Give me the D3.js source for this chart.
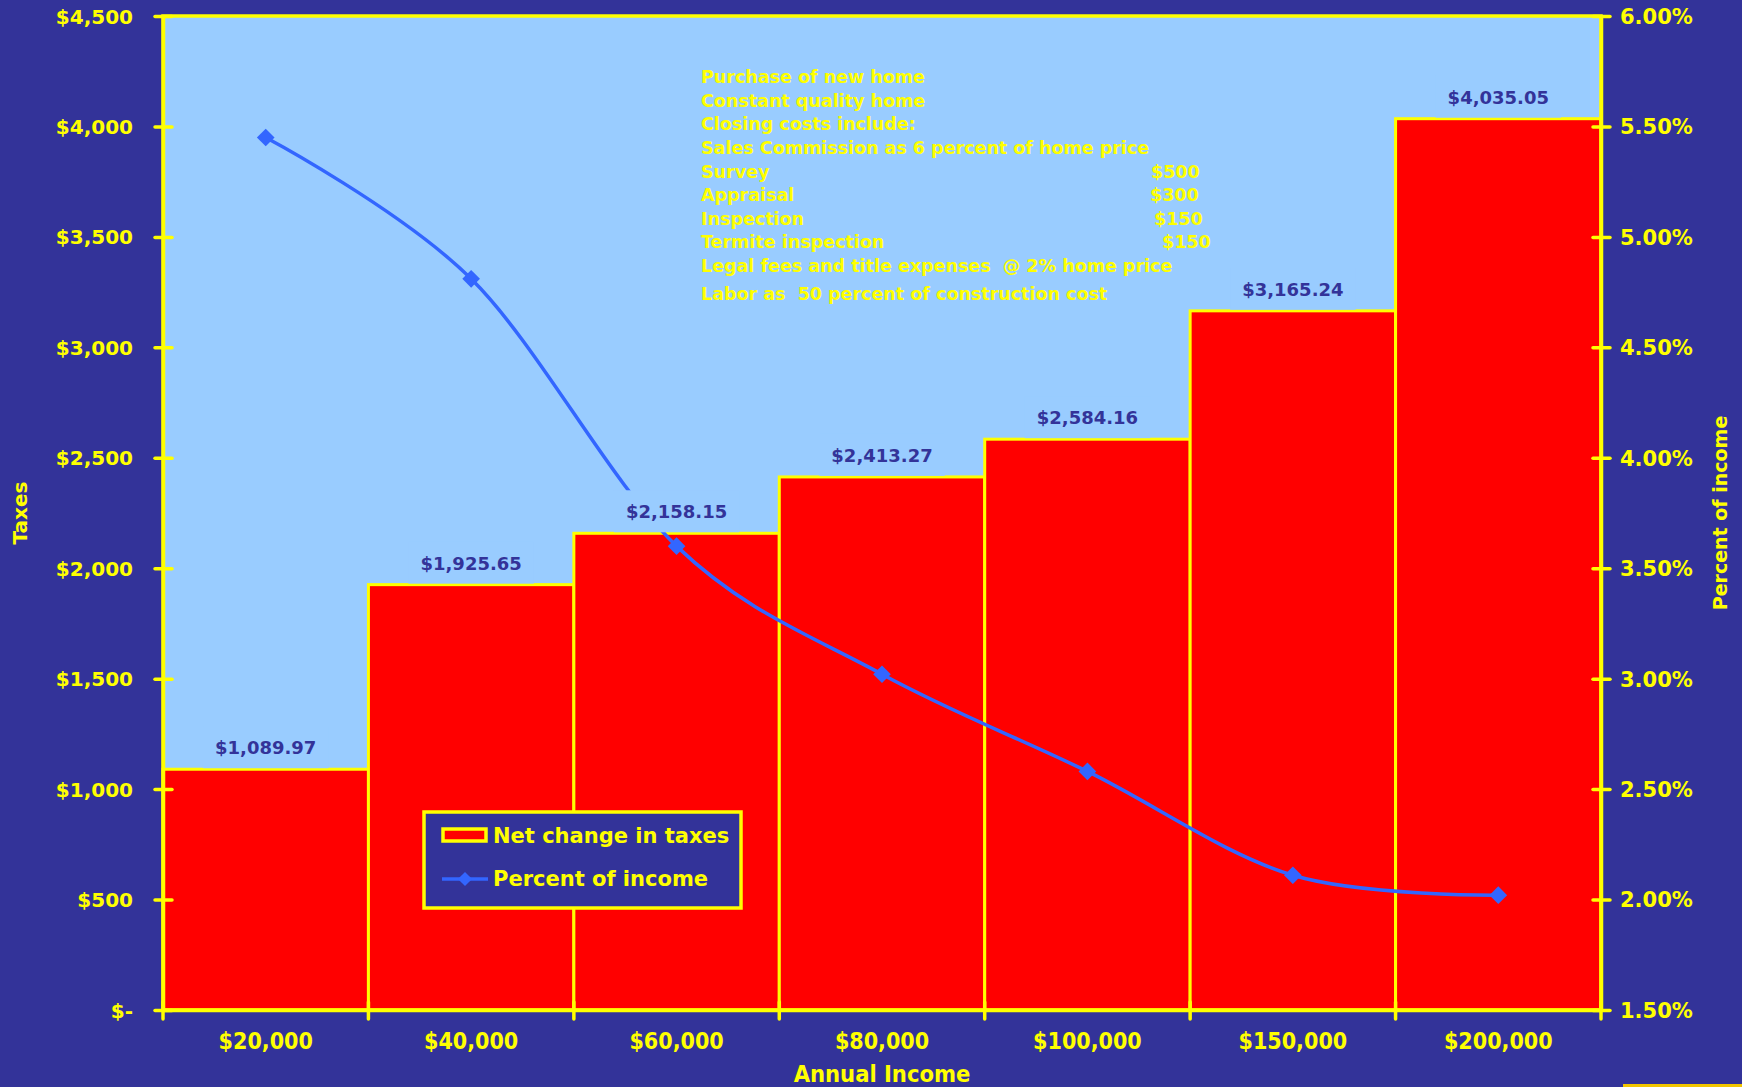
<!DOCTYPE html>
<html>
<head>
<meta charset="utf-8">
<script src="https://cdn.jsdelivr.net/npm/d3@7"></script>
<style>
  html, body { margin: 0; padding: 0; background: #333399; }
  svg { display: block; }
  .bold { font-family: "DejaVu Sans", Verdana, sans-serif; font-weight: bold; }
  .cond { font-family: "DejaVu Sans Condensed", "Liberation Sans Narrow", "DejaVu Sans", sans-serif; font-stretch: condensed; font-weight: bold; }
</style>
</head>
<body>
<svg id="chart" width="1742" height="1087"></svg>
<script>
// Income brackets and the net change in taxes from buying a new home
const categories = ["$20,000", "$40,000", "$60,000", "$80,000", "$100,000", "$150,000", "$200,000"];
const taxes = [1089.97, 1925.65, 2158.15, 2413.27, 2584.16, 3165.24, 4035.05];
// Net change as a percent of annual income
const pctIncome = [5.45, 4.81, 3.60, 3.02, 2.58, 2.11, 2.02];

const taxTicks = [0, 500, 1000, 1500, 2000, 2500, 3000, 3500, 4000, 4500];
const pctTicks = [1.5, 2.0, 2.5, 3.0, 3.5, 4.0, 4.5, 5.0, 5.5, 6.0];

// Assumptions listed inside the plot
const noteLines = [
  "Purchase of new home",
  "Constant quality home",
  "Closing costs include:",
  "Sales Commission as 6 percent of home price",
  "Survey",
  "Appraisal",
  "Inspection",
  "Termite inspection",
  "Legal fees and title expenses  @ 2% home price",
  "Labor as  50 percent of construction cost"
];
const noteAmounts = ["", "", "", "", "$500", "$300", "$150", "$150", "", ""];

const COLORS = {
  bg: "#333399", plot: "#99CCFF", bar: "#FF0000", yellow: "#FFFF00",
  line: "#3366FF", label: "#333399"
};

const W = 1742, H = 1087;
const plot = { left: 163, right: 1601, top: 16, bottom: 1010 };

const svg = d3.select("#chart");
svg.append("rect").attr("width", W).attr("height", H).attr("fill", COLORS.bg);

const x = d3.scaleBand().domain(categories).range([plot.left, plot.right]).padding(0);
const yL = d3.scaleLinear().domain([0, 4500]).range([plot.bottom, plot.top]);
const yR = d3.scaleLinear().domain([1.5, 6]).range([plot.bottom, plot.top]);

// plot area background
svg.append("rect")
  .attr("x", plot.left).attr("y", plot.top)
  .attr("width", plot.right - plot.left).attr("height", plot.bottom - plot.top)
  .attr("fill", COLORS.plot);

// bars
svg.append("g").selectAll("rect").data(categories).join("rect")
  .attr("x", d => x(d))
  .attr("y", (d, i) => yL(taxes[i]))
  .attr("width", x.bandwidth())
  .attr("height", (d, i) => yL(0) - yL(taxes[i]))
  .attr("fill", COLORS.bar)
  .attr("stroke", COLORS.yellow)
  .attr("stroke-width", 3);

// plot border
svg.append("rect")
  .attr("x", plot.left).attr("y", plot.top)
  .attr("width", plot.right - plot.left).attr("height", plot.bottom - plot.top)
  .attr("fill", "none").attr("stroke", COLORS.yellow).attr("stroke-width", 3.5);

// left axis
const axL = svg.append("g").attr("transform", `translate(${plot.left},0)`)
  .call(d3.axisLeft(yL).tickValues(taxTicks).tickSizeOuter(0)
    .tickFormat(d => d === 0 ? "$-" : d3.format("$,")(d)));
axL.select(".domain").attr("stroke", COLORS.yellow).attr("stroke-width", 3.5);
axL.selectAll(".tick line").attr("x1", -8).attr("x2", 9)
  .attr("stroke", COLORS.yellow).attr("stroke-width", 3.5).attr("stroke-linecap", "round");
axL.selectAll(".tick text").attr("x", -30).attr("dy", "0.35em")
  .attr("class", "bold").attr("fill", COLORS.yellow).style("font-size", "20px");

// right axis
const axR = svg.append("g").attr("transform", `translate(${plot.right},0)`)
  .call(d3.axisRight(yR).tickValues(pctTicks).tickSizeOuter(0)
    .tickFormat(d => d3.format(".2f")(d) + "%"));
axR.select(".domain").attr("stroke", COLORS.yellow).attr("stroke-width", 3.5);
axR.selectAll(".tick line").attr("x1", -8).attr("x2", 9)
  .attr("stroke", COLORS.yellow).attr("stroke-width", 3.5).attr("stroke-linecap", "round");
axR.selectAll(".tick text").attr("x", 19).attr("dy", "0.35em")
  .attr("class", "bold").attr("fill", COLORS.yellow).style("font-size", "21px");

// bottom axis: labels at band centres, ticks at band edges
const axB = svg.append("g").attr("transform", `translate(0,${plot.bottom})`)
  .call(d3.axisBottom(x).tickSize(0).tickSizeOuter(0));
axB.select(".domain").attr("stroke", COLORS.yellow).attr("stroke-width", 3.5);
axB.selectAll(".tick text").attr("y", 39).attr("dy", 0)
  .attr("class", "cond").attr("fill", COLORS.yellow).style("font-size", "23px");
const edges = categories.map(c => x(c)).concat([x.range()[1]]);
axB.selectAll(".edge").data(edges).join("line").attr("class", "edge")
  .attr("x1", d => d).attr("x2", d => d).attr("y1", -8).attr("y2", 9)
  .attr("stroke", COLORS.yellow).attr("stroke-width", 3.5).attr("stroke-linecap", "round");

// axis titles
svg.append("text").attr("class", "bold").attr("fill", COLORS.yellow)
  .style("font-size", "20px").attr("text-anchor", "middle")
  .attr("transform", `translate(27,${(plot.top + plot.bottom) / 2}) rotate(-90)`)
  .text("Taxes");
svg.append("text").attr("class", "bold").attr("fill", COLORS.yellow)
  .style("font-size", "19px").attr("text-anchor", "middle")
  .attr("transform", `translate(1727,${(plot.top + plot.bottom) / 2}) rotate(-90)`)
  .text("Percent of income");
svg.append("text").attr("class", "cond").attr("fill", COLORS.yellow)
  .style("font-size", "23.5px").attr("text-anchor", "middle")
  .attr("x", (plot.left + plot.right) / 2).attr("y", 1082)
  .text("Annual Income");

// percent-of-income line
const cx = d => x(d) + x.bandwidth() / 2;
const lineGen = d3.line()
  .x((d, i) => cx(categories[i]))
  .y(d => yR(d))
  .curve(d3.curveCatmullRom.alpha(0));
svg.append("path").datum(pctIncome)
  .attr("d", lineGen)
  .attr("fill", "none").attr("stroke", COLORS.line).attr("stroke-width", 3.5);

const diamond = (g, s) => g.append("rect")
  .attr("x", -s / 2).attr("y", -s / 2).attr("width", s).attr("height", s)
  .attr("transform", "rotate(45)").attr("fill", COLORS.line);

svg.append("g").selectAll("g").data(pctIncome).join("g")
  .attr("transform", (d, i) => `translate(${cx(categories[i])},${yR(d)})`)
  .each(function () { diamond(d3.select(this), 12.5); });

// value labels above bars, on a plot-coloured box
const lbl = svg.append("g").selectAll("g").data(taxes).join("g")
  .attr("transform", (d, i) => `translate(${cx(categories[i])},${yL(d) - 15})`);
lbl.append("text").attr("class", "bold lbltext")
  .style("font-size", "18px").attr("text-anchor", "middle")
  .attr("fill", COLORS.label)
  .text(d => d3.format("$,.2f")(d));
lbl.each(function () {
  const g = d3.select(this);
  const bb = g.select("text").node().getBBox();
  g.insert("rect", "text")
    .attr("x", bb.x - 12).attr("y", -28)
    .attr("width", bb.width + 24).attr("height", 42)
    .attr("fill", COLORS.plot);
});

// notes
const notes = svg.append("g").attr("class", "bold").attr("fill", COLORS.yellow)
  .style("font-size", "17.5px");
const noteY = [83, 106.5, 130, 154, 177.5, 201, 224.5, 248, 271.5, 299.5];
const amountX = [0, 0, 0, 0, 1151, 1150, 1154, 1162, 0, 0];
noteLines.forEach((t, i) => {
  notes.append("text").attr("x", 701).attr("y", noteY[i])
    .attr("xml:space", "preserve").text(t);
  if (noteAmounts[i]) {
    notes.append("text").attr("x", amountX[i]).attr("y", noteY[i]).text(noteAmounts[i]);
  }
});

// legend
const lg = svg.append("g").attr("transform", "translate(424,812)");
lg.append("rect").attr("width", 317).attr("height", 96)
  .attr("fill", COLORS.bg).attr("stroke", COLORS.yellow).attr("stroke-width", 3.5);
lg.append("rect").attr("x", 19).attr("y", 17).attr("width", 43).attr("height", 12)
  .attr("fill", COLORS.bar).attr("stroke", COLORS.yellow).attr("stroke-width", 3.5);
lg.append("text").attr("class", "bold").attr("fill", COLORS.yellow)
  .style("font-size", "21px").attr("x", 69).attr("y", 31).text("Net change in taxes");
lg.append("line").attr("x1", 18).attr("x2", 64).attr("y1", 67).attr("y2", 67)
  .attr("stroke", COLORS.line).attr("stroke-width", 3.5);
diamond(lg.append("g").attr("transform", "translate(41,67)"), 10);
lg.append("text").attr("class", "bold").attr("fill", COLORS.yellow)
  .style("font-size", "21px").attr("x", 69).attr("y", 74).text("Percent of income");

// gold edge strip at the lower right
svg.append("rect").attr("x", 1623).attr("y", 1084).attr("width", 119).attr("height", 3)
  .attr("fill", "#F2C500");
</script>
</body>
</html>
